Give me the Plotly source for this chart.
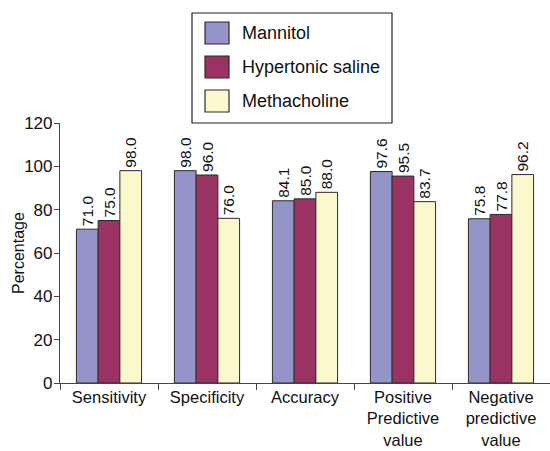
import plotly.graph_objects as go

categories = ["Sensitivity", "Specificity", "Accuracy",
              "Positive<br>Predictive<br>value", "Negative<br>predictive<br>value"]
series_names = ["Mannitol", "Hypertonic saline", "Methacholine"]
mannitol = [71.0, 98.0, 84.1, 97.6, 75.8]
hypertonic_saline = [75.0, 96.0, 85.0, 95.5, 77.8]
methacholine = [98.0, 76.0, 88.0, 83.7, 96.2]
colors = ["#9494c8", "#9a3263", "#faf8cc"]
y_ticks = [0, 20, 40, 60, 80, 100, 120]

FONT = "Liberation Sans, Arial, Helvetica, sans-serif"

fig = go.Figure()
for name, vals, col in zip(series_names, [mannitol, hypertonic_saline, methacholine], colors):
    fig.add_trace(go.Bar(
        x=categories, y=vals, name=name,
        marker=dict(color=col, line=dict(color="#2b2b2b", width=1)),
        texttemplate="%{y:.1f}", textposition="outside", textangle=-90,
        textfont=dict(size=15.5, color="#111", family=FONT),
        constraintext="none", cliponaxis=False, showlegend=False,
    ))

# Boxed legend with large swatches, drawn in paper coordinates
W, H, L, T = 490.0, 260.0, 60.0, 123.0
def px(x):
    return (x - L) / W
def py(y):
    return (T + H - y) / H

shapes = [dict(type="rect", xref="paper", yref="paper",
               x0=px(192), x1=px(392), y0=py(123), y1=py(13),
               line=dict(color="#222", width=1.2), fillcolor="white", layer="above")]
annotations = []
row_centers = [33, 67, 101]
for name, col, cy in zip(series_names, colors, row_centers):
    shapes.append(dict(type="rect", xref="paper", yref="paper",
                       x0=px(205), x1=px(229), y0=py(cy + 11), y1=py(cy - 11),
                       line=dict(color="#2b2b2b", width=1.2), fillcolor=col, layer="above"))
    annotations.append(dict(xref="paper", yref="paper", x=px(240), y=py(cy),
                            xanchor="left", yanchor="middle", text=name, showarrow=False,
                            font=dict(size=18, color="#111", family=FONT)))

# Y-axis title placed close to the tick labels
annotations.append(dict(xref="paper", yref="paper", x=px(18), y=0.5,
                        xanchor="center", yanchor="middle", text="Percentage",
                        textangle=-90, showarrow=False,
                        font=dict(size=16, color="#111", family=FONT)))

fig.update_layout(
    width=550, height=451,
    margin=dict(l=60, r=0, t=123, b=68),
    paper_bgcolor="white", plot_bgcolor="white",
    barmode="group", bargap=0.335, bargroupgap=0,
    font=dict(family=FONT, size=16, color="#111"),
    shapes=shapes, annotations=annotations,
    xaxis=dict(showline=True, linecolor="#444", linewidth=1.2, automargin=False,
               ticks="outside", ticklen=6, tickcolor="#444", tickson="boundaries",
               tickfont=dict(size=16.5), ticklabelstandoff=-1, showgrid=False),
    yaxis=dict(range=[0, 120], tickvals=y_ticks, showline=True, linecolor="#444", linewidth=1.2,
               automargin=False,
               ticks="outside", ticklen=5, tickcolor="#444", showgrid=False, zeroline=False,
               tickfont=dict(size=17), ticklabelstandoff=-2),
)

fig.write_html("out.html")
